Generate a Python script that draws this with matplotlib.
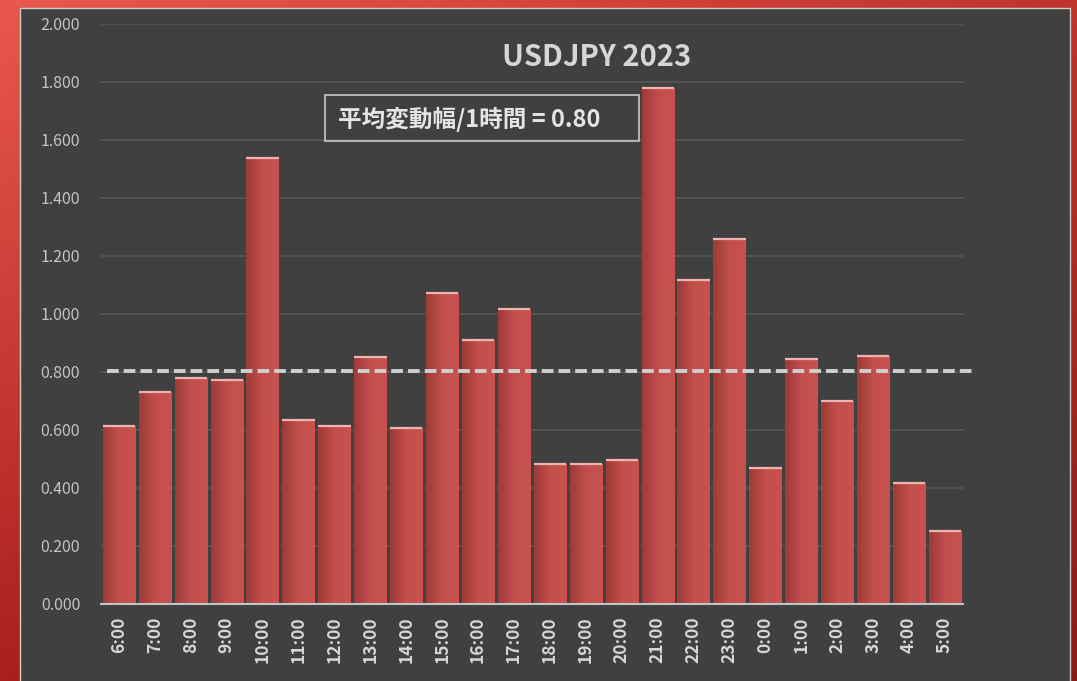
import numpy as np
import matplotlib
matplotlib.use('Agg')
import matplotlib.pyplot as plt
from matplotlib.patches import Rectangle
from matplotlib.colors import LinearSegmentedColormap, to_rgb

# 時間帯ごとの平均変動幅 (USDJPY 2023)
hours = ['6:00', '7:00', '8:00', '9:00', '10:00', '11:00', '12:00', '13:00',
         '14:00', '15:00', '16:00', '17:00', '18:00', '19:00', '20:00', '21:00',
         '22:00', '23:00', '0:00', '1:00', '2:00', '3:00', '4:00', '5:00']
ranges = [0.614, 0.731, 0.779, 0.772, 1.538, 0.634, 0.614, 0.852,
          0.607, 1.072, 0.910, 1.017, 0.483, 0.483, 0.497, 1.779,
          1.117, 1.259, 0.469, 0.845, 0.700, 0.855, 0.417, 0.252]
title = 'USDJPY 2023'
yticks = np.arange(0, 2.01, 0.2)

avg = np.mean(ranges)

plt.rcParams['font.family'] = ['Noto Sans CJK JP', 'DejaVu Sans']

W, H = 1077, 681
fig = plt.figure(figsize=(W / 100, H / 100), dpi=100)

# 背景 (赤いグラデーション + 暗いパネル)
bg = fig.add_axes([0, 0, 1, 1], zorder=-10)
bg.axis('off')
tl, tr = np.array(to_rgb('#e9584c')), np.array(to_rgb('#c0342c'))
bl, br = np.array(to_rgb('#a81f1f')), np.array(to_rgb('#8a1a18'))
u = np.linspace(0, 1, 200)[None, :, None]
v = np.linspace(0, 1, 200)[:, None, None]
grad = (1 - v) * ((1 - u) * tl + u * tr) + v * ((1 - u) * bl + u * br)
bg.imshow(grad, extent=[0, 1, 0, 1], aspect='auto', origin='upper')
bg.set_xlim(0, 1)
bg.set_ylim(0, 1)
bg.add_patch(Rectangle((20 / W, -0.01), 1050 / W, 673 / H + 0.01,
                       facecolor='#404040', edgecolor='#d6cbc0', lw=1))

ax = fig.add_axes([101 / W, (H - 604) / H, 862 / W, 580 / H])
ax.set_facecolor('none')

x = np.arange(len(hours))
bw = 0.9
bars = ax.bar(x, ranges, width=bw, color='#c0504d', zorder=2)

# 棒のグラデーション
cmap = LinearSegmentedColormap.from_list('bar', ['#9e3b38', '#c24f4b', '#c9524e'])
hgrad = np.linspace(0, 1, 64)[None, :]
for xi, h, b in zip(x, ranges, bars):
    im = ax.imshow(hgrad, extent=[xi - bw / 2, xi + bw / 2, 0, h], aspect='auto',
                   cmap=cmap, zorder=2.5)
    im.set_clip_path(b)
ax.hlines(ranges, x - bw / 2, x + bw / 2, color='#f0b4b0', lw=1.6, zorder=3)

# 平均線
ax.plot([-0.33, 23.76], [avg, avg], color='#cfcfcf', lw=2.8,
        dashes=(3, 1.3), clip_on=False, zorder=4)

ax.set_xlim(-0.5, len(hours) - 0.5)
ax.set_ylim(0, 2.0)
ax.set_yticks(yticks)
ax.set_yticklabels(['{:.3f}'.format(t) for t in yticks])
ax.set_xticks(x)
ax.set_xticklabels(hours, rotation=90, fontweight='bold')
ax.yaxis.grid(True, color='#575757', lw=1.2)
ax.set_axisbelow(True)
for s in ['top', 'right', 'left']:
    ax.spines[s].set_visible(False)
ax.spines['bottom'].set_color('#c0c4c8')
ax.spines['bottom'].set_linewidth(1.5)
ax.spines['bottom'].set_zorder(5)
ax.tick_params(axis='y', length=0, pad=15, labelsize=11.5, labelcolor='#c4c4c4')
ax.tick_params(axis='x', length=0, pad=9, labelsize=12.5, labelcolor='#d6d6d6')

fig.text(597 / W, 1 - 57 / H, title, ha='center', va='center',
         fontsize=21, fontweight='bold', color='#d6d6d6')

fig.patches.append(Rectangle((325 / W, 1 - 141 / H), 314 / W, 46 / H,
                             transform=fig.transFigure, facecolor='none',
                             edgecolor='#bdbdbd', lw=1.3))
fig.text(338 / W, 1 - 119 / H, '平均変動幅/1時間 = {:.2f}'.format(avg),
         ha='left', va='center', fontsize=17, fontweight='bold', color='#e4e4e4')

fig.savefig('out.png', dpi=100)
